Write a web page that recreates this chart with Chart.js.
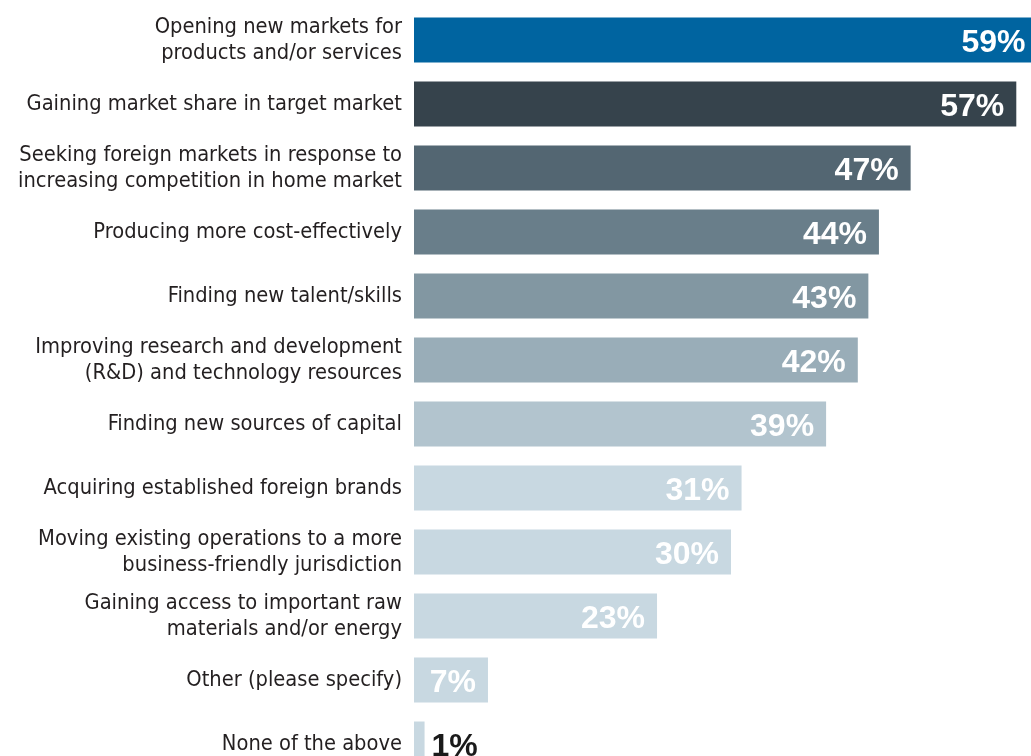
<!DOCTYPE html>
<html>
<head>
<meta charset="utf-8">
<script src="https://cdn.jsdelivr.net/npm/chart.js@4"></script>
<style>
  html, body { margin: 0; padding: 0; overflow: hidden; background: #fff; }
  #wrap { position: relative; width: 1048px; height: 776px; }
</style>
</head>
<body>
<div id="wrap"><canvas id="driversChart"></canvas></div>
<script>
var categories = [
    ["Opening new markets for", "products and/or services"],
    "Gaining market share in target market",
    ["Seeking foreign markets in response to", "increasing competition in home market"],
    "Producing more cost-effectively",
    "Finding new talent/skills",
    ["Improving research and development", "(R&D) and technology resources"],
    "Finding new sources of capital",
    "Acquiring established foreign brands",
    ["Moving existing operations to a more", "business-friendly jurisdiction"],
    ["Gaining access to important raw", "materials and/or energy"],
    "Other (please specify)",
    "None of the above"
];
var shares = [59, 57, 47, 44, 43, 42, 39, 31, 30, 23, 7, 1];
var barColors = [
    "#0064a0", "#36434c", "#536672", "#697e8a", "#8297a2", "#99adb8",
    "#b2c4ce", "#c8d8e1", "#c8d8e1", "#c8d8e1", "#c8d8e1", "#c8d8e1"
];

// percentage labels: inside the bar in white, outside in black for tiny bars
var valueLabels = {
    id: "valueLabels",
    afterDatasetsDraw: function (chart) {
        var ctx = chart.ctx;
        var meta = chart.getDatasetMeta(0);
        ctx.save();
        ctx.font = "bold 32px 'Liberation Sans', Arial, sans-serif";
        ctx.textBaseline = "alphabetic";
        meta.data.forEach(function (bar, i) {
            var v = shares[i];
            var txt = v + "%";
            if (v >= 5) {
                ctx.fillStyle = "#ffffff";
                ctx.textAlign = "right";
                ctx.fillText(txt, bar.x - 12, bar.y + 11.5);
            } else {
                ctx.fillStyle = "#1a1a1a";
                ctx.textAlign = "left";
                ctx.fillText(txt, bar.x + 7, bar.y + 11.5);
            }
        });
        ctx.restore();
    }
};

document.addEventListener("DOMContentLoaded", function () {
    var ctx = document.getElementById("driversChart").getContext("2d");
    new Chart(ctx, {
        type: "bar",
        data: {
            labels: categories,
            datasets: [
                {
                    data: shares,
                    backgroundColor: barColors,
                    borderWidth: 0,
                    barPercentage: 0.703,
                    categoryPercentage: 1,
                },
            ],
        },
        options: {
            indexAxis: "y",
            responsive: true,
            maintainAspectRatio: false,
            animation: false,
            layout: { padding: { top: 8, bottom: 0, left: 0, right: 0 } },
            scales: {
                x: {
                    display: false,
                    min: 0,
                    max: 60,
                },
                y: {
                    afterFit: function (scale) {
                        scale.width = 414;
                        scale.paddingTop = 0;
                        scale.paddingBottom = 0;
                    },
                    grid: { display: false, drawTicks: false },
                    border: { display: false },
                    ticks: {
                        padding: 12,
                        color: "#231f20",
                        font: {
                            family: "'DejaVu Sans Condensed', 'DejaVu Sans', sans-serif",
                            size: 21.7,
                            lineHeight: 1.2,
                        },
                    },
                },
            },
            plugins: {
                legend: { display: false },
                tooltip: { enabled: false },
            },
        },
        plugins: [valueLabels],
    });
});
</script>
</body>
</html>
